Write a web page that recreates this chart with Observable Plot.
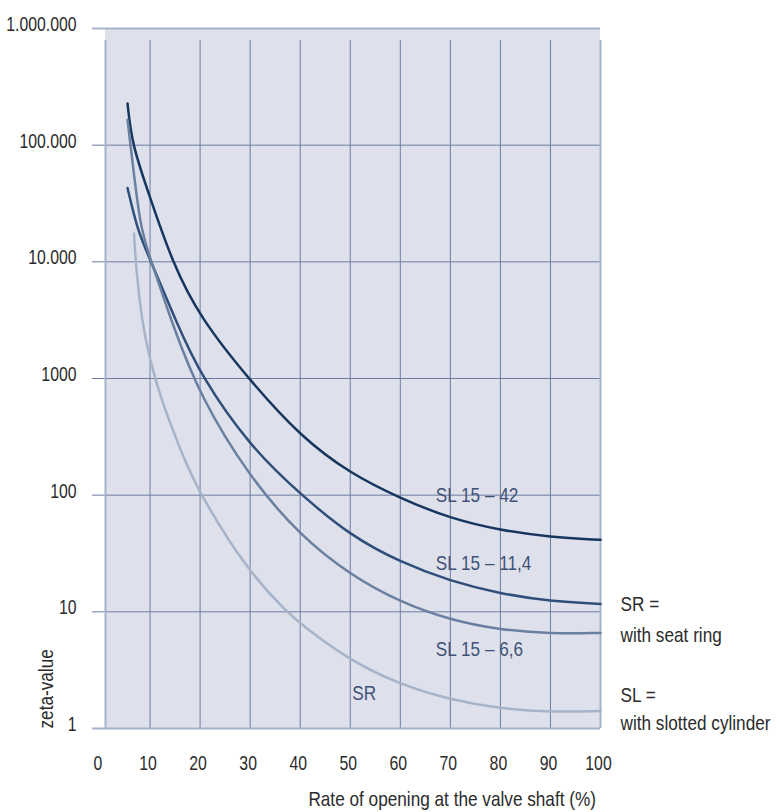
<!DOCTYPE html>
<html>
<head>
<meta charset="utf-8">
<script src="https://cdn.jsdelivr.net/npm/d3@7"></script>
<script src="https://cdn.jsdelivr.net/npm/@observablehq/plot@0.6"></script>
<style>
  html, body { margin: 0; padding: 0; background: #ffffff; }
  #chart { width: 779px; height: 812px; }
</style>
</head>
<body>
<div id="chart"></div>
<script>
// ---- data ----
const seriesNames = ["SL 15 – 42", "SL 15 – 11,4", "SL 15 – 6,6", "SR"];

const sl42Open  = [5.5, 6.4, 10, 14.4, 20, 30, 40, 50, 60, 70, 80, 90, 100];
const sl42Zeta  = [228000, 100000, 35700, 10000, 3300, 955, 320, 153, 94, 63, 50, 43.6, 41.4];

const sl114Open = [5.5, 7.5, 10, 15.4, 20, 30, 40, 50, 60, 70, 80, 90, 100];
const sl114Zeta = [43000, 18500, 10500, 2950, 1080, 260, 102, 45, 26.6, 18.3, 14.3, 12.3, 11.7];

const sl66Open  = [5.5, 6.1, 8.1, 10, 14.4, 20, 30, 40, 50, 60, 70, 80, 90, 100];
const sl66Zeta  = [165000, 100000, 18500, 11000, 2950, 700, 140, 45, 20.7, 12.1, 8.5, 7.0, 6.5, 6.6];

const srOpen    = [6.8, 7.1, 8.4, 10, 12, 16.1, 20, 30, 37.4, 40, 50, 60, 70, 80, 90, 100];
const srZeta    = [17500, 10000, 2950, 1450, 700, 240, 100, 21, 10, 7.9, 3.8, 2.38, 1.76, 1.48, 1.38, 1.41];

const xTicks = [0, 10, 20, 30, 40, 50, 60, 70, 80, 90, 100];
const yTicks = [1, 10, 100, 1000, 10000, 100000, 1000000];
const yTickLabels = ["1", "10", "100", "1000", "10.000", "100.000", "1.000.000"];

// in-plot series labels (x = % opening, y = zeta)
const labelText = ["SL 15 – 42", "SL 15 – 11,4", "SL 15 – 6,6", "SR"];
const labelX = [67.1, 67.1, 67.1, 50.4];
const labelY = [100, 25.8, 4.75, 2.0];

// notes on the right
const noteText = ["SR =", "with seat ring", "SL =", "with slotted cylinder"];
const noteY = [11.55, 6.26, 1.92, 1.097];

const xTitle = "Rate of opening at the valve shaft (%)";
const yTitle = "zeta-value";

// ---- build table ----
const colors = ["#17365f", "#2f4e7a", "#6b7fa1", "#a7b3c8"];
const rows = [];
[[sl42Open, sl42Zeta], [sl114Open, sl114Zeta], [sl66Open, sl66Zeta], [srOpen, srZeta]].forEach(([xs, ys], i) => {
  xs.forEach((x, j) => rows.push({series: seriesNames[i], x, y: ys[j]}));
});
const labels = labelText.map((t, i) => ({t, x: labelX[i], y: labelY[i]}));
const notes = noteText.map((t, i) => ({t, y: noteY[i]}));

const font = "'Liberation Sans', Arial, sans-serif";
const gridColor = "#6c7ca0";
const frameColor = "#a6b2c9";
const textColor = "#2b2b2b";
const labelColor = "#3f5176";

const chart = Plot.plot({
  width: 779,
  height: 812,
  marginLeft: 99.5,
  marginRight: 179,
  marginTop: 28,
  marginBottom: 84,
  style: {fontFamily: font, fontSize: "20px", color: textColor, background: "#ffffff", overflow: "visible"},
  x: {domain: [0, 100], axis: null},
  y: {type: "log", domain: [1, 1000000], axis: null},
  color: {domain: seriesNames, range: colors},
  marks: [
    Plot.rect([0], {x1: 1.1, x2: 100, y1: 1, y2: 1000000, fill: "#dee1eb"}),
    Plot.ruleY(yTicks.slice(1, -1), {x1: 0, x2: 100, stroke: gridColor, strokeWidth: 1, insetLeft: -7.5}),
    Plot.ruleX(xTicks.slice(1, -1), {y1: 1, y2: 1000000, stroke: gridColor, strokeWidth: 1, insetBottom: -12}),
    Plot.ruleY([1, 1000000], {x1: 1.1, x2: 100, stroke: frameColor, strokeWidth: 2, insetLeft: -13}),
    Plot.ruleX([1.1, 100], {y1: 1, y2: 1000000, stroke: frameColor, strokeWidth: 2, insetBottom: -12}),
    Plot.axisY(yTicks, {anchor: "left", label: null, tickSize: 0, tickPadding: 23.5, dy: -4,
      tickFormat: (d) => yTickLabels[yTicks.indexOf(d)], fill: textColor, fontSize: 20}),
    Plot.axisX(xTicks, {anchor: "bottom", label: null, tickSize: 0, tickPadding: 27, dx: -2,
      tickFormat: (d) => String(d), fill: textColor, fontSize: 20}),
    Plot.line(rows, {x: "x", y: "y", z: "series", stroke: "series", strokeWidth: 2.5, curve: "basis"}),
    Plot.text(labels, {x: "x", y: "y", text: "t", textAnchor: "start", fill: labelColor, fontSize: 20}),
    Plot.text(notes, {x: 104, y: "y", text: "t", textAnchor: "start", fill: textColor, fontSize: 20}),
    Plot.text([xTitle], {x: 99.1, y: 0.246, text: (d) => d, textAnchor: "end", fill: textColor, fontSize: 20}),
    Plot.text([yTitle], {x: -10.6, y: 1, text: (d) => d, rotate: -90, textAnchor: "start", fill: textColor, fontSize: 20})
  ]
});

// condensed look: narrow every text horizontally about its own anchor
function divideLength(v, s) {
  const m = /^(-?[\d.]+)([a-z%]*)$/i.exec(String(v).trim());
  return m ? `${parseFloat(m[1]) / s}${m[2]}` : v;
}
chart.querySelectorAll("text").forEach((t) => {
  const s = /^[\d.]+$/.test(t.textContent.trim()) ? 0.79 : 0.86;
  for (const a of ["x", "dx"]) {
    const v = t.getAttribute(a);
    if (v !== null) t.setAttribute(a, divideLength(v, s));
  }
  const tr = t.getAttribute("transform") || "";
  t.setAttribute("transform", `${tr} scale(${s},1)`.trim());
});

document.getElementById("chart").appendChild(chart);
</script>
</body>
</html>
